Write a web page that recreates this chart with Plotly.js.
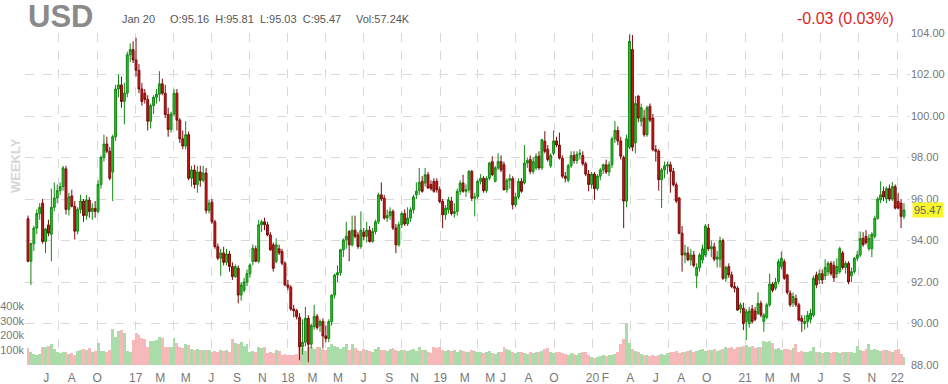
<!DOCTYPE html>
<html>
<head>
<meta charset="utf-8">
<script src="https://cdn.plot.ly/plotly-3.0.1.min.js"></script>
<style>html,body{margin:0;padding:0;background:#fff;}#chart{width:948px;height:384px;}</style>
</head>
<body>
<div id="chart"></div>
<script>
// Weekly bars, first week starting Monday 2016-04-18
const firstWeek = '2016-04-18';

const openP = [
95.05,93.00,93.85,94.60,95.30,95.80,93.95,94.75,94.30,95.60,
96.05,96.40,96.60,97.45,95.50,96.15,95.65,94.45,95.50,95.90,
95.20,95.95,95.40,95.55,95.40,96.70,98.00,98.65,98.30,97.30,
99.00,101.30,101.50,100.70,101.10,102.95,103.20,102.70,102.20,101.30,
101.10,100.80,99.75,100.50,100.90,101.05,101.55,101.10,100.07,99.35,
100.10,101.10,99.80,98.90,98.55,99.10,97.00,97.40,96.70,97.30,
96.90,97.25,95.45,95.85,94.90,93.70,93.15,93.40,92.95,93.35,
92.75,92.26,92.66,91.37,91.60,92.00,92.40,92.98,93.60,93.00,
94.76,94.90,94.76,94.27,93.79,92.98,93.60,93.47,92.90,91.86,
91.75,90.70,90.62,90.30,88.88,89.10,90.25,89.00,89.85,90.35,
89.90,90.10,89.40,89.28,90.09,91.37,92.34,92.45,93.55,94.03,
94.43,93.79,94.50,94.27,93.71,94.40,94.20,94.50,93.95,94.43,
94.90,96.20,96.04,95.08,95.20,95.40,94.60,93.79,94.76,95.30,
94.80,95.08,95.48,96.20,96.40,96.85,96.77,97.17,96.70,96.85,
96.85,96.45,95.88,95.24,95.48,95.90,95.30,95.40,96.37,96.77,
96.37,96.45,97.33,96.04,96.12,96.85,97.00,96.40,97.00,97.80,
96.85,97.50,97.80,97.65,96.45,96.90,96.98,95.72,96.10,96.85,
96.77,97.73,97.90,97.33,97.50,98.06,97.50,98.78,98.40,97.60,
98.20,98.80,98.60,97.97,97.10,96.90,97.60,98.10,97.85,98.15,
98.10,97.70,97.20,96.70,97.20,96.50,97.10,97.40,97.65,97.30,
97.65,98.90,99.30,98.80,98.00,95.90,98.50,103.20,98.70,100.96,
99.75,99.90,99.10,100.47,99.90,98.38,98.30,96.93,97.40,97.60,
97.65,97.33,96.69,96.05,94.35,93.30,93.40,93.07,93.30,92.30,
92.70,93.06,93.30,94.60,93.60,93.70,93.10,93.10,94.00,92.18,
92.74,92.34,91.78,91.70,90.70,90.73,90.10,90.00,90.70,90.60,
90.49,90.97,90.10,90.30,90.90,91.90,91.70,92.02,92.74,92.98,
92.34,91.46,91.00,91.20,90.90,90.25,90.00,90.10,90.20,90.40,
92.34,92.10,92.40,92.30,92.50,92.90,92.80,92.40,92.50,93.40,
92.70,92.90,92.30,92.50,93.14,93.30,94.10,94.20,93.60,93.60,
94.20,95.07,95.96,96.37,96.00,96.50,96.00,96.60,95.88,95.80,
95.16];

const highP = [
95.20,93.90,94.70,95.50,95.80,96.00,94.60,95.00,96.50,96.80,
96.70,96.80,97.60,97.60,96.30,96.45,95.90,95.60,96.20,96.00,
96.20,96.10,95.80,95.90,96.90,98.10,99.10,99.00,98.50,99.10,
101.50,102.00,101.90,101.60,103.10,103.50,103.60,103.77,102.50,101.60,
101.30,101.00,100.60,101.00,101.30,102.16,101.80,101.50,100.40,100.20,
101.30,101.30,99.90,99.30,99.75,99.25,97.60,97.65,97.60,97.60,
97.60,97.50,95.95,96.00,95.00,93.85,93.60,93.70,93.60,93.50,
92.95,92.85,92.80,92.00,92.20,92.60,92.90,93.80,93.75,95.00,
95.00,95.10,94.90,94.40,93.90,94.10,93.80,93.60,93.00,92.10,
91.85,90.90,90.70,90.50,90.20,90.80,90.40,90.00,90.90,90.45,
90.20,90.25,89.90,90.20,91.40,92.40,92.80,93.60,94.10,94.90,
94.50,95.20,95.20,94.40,95.40,94.60,94.90,94.70,94.60,95.00,
96.30,96.80,96.20,95.50,95.60,95.50,94.80,94.90,95.40,95.50,
95.60,95.60,96.20,96.80,97.50,97.10,97.50,97.30,96.90,97.00,
97.00,96.60,96.00,95.70,96.10,96.10,95.80,96.50,96.90,97.17,
96.70,97.40,97.40,96.30,96.95,97.20,97.10,97.10,97.80,98.06,
97.60,98.20,98.10,97.80,97.00,97.20,97.10,96.30,97.00,97.00,
98.60,98.00,98.10,98.00,98.20,98.30,98.90,99.27,98.60,98.20,
99.30,99.00,99.20,98.10,97.30,97.70,98.30,98.30,98.30,98.40,
98.30,97.80,97.40,97.30,97.30,97.20,97.50,97.70,97.90,97.80,
99.00,99.75,99.50,99.00,98.10,99.10,103.93,103.90,100.96,101.00,
100.60,100.30,100.50,100.60,100.10,98.60,98.40,97.50,97.80,97.80,
97.80,97.50,96.80,96.10,94.70,93.80,93.70,93.60,93.50,92.90,
93.40,93.80,94.80,94.80,94.00,93.90,93.50,94.19,94.10,92.80,
92.90,92.50,92.00,91.80,91.00,91.00,90.70,90.80,90.90,90.80,
91.50,91.10,90.50,91.00,92.40,92.00,92.20,93.10,93.47,93.10,
92.40,91.60,91.50,91.40,91.00,90.40,90.40,90.60,90.70,92.30,
92.50,92.60,92.60,93.10,93.00,93.00,93.00,93.14,93.70,93.50,
93.00,93.00,92.70,93.20,93.50,94.43,94.40,94.50,94.30,94.40,
95.20,96.10,96.85,96.60,96.60,96.70,96.82,96.70,96.30,96.00,
95.81];

const lowP = [
92.95,91.86,93.50,94.30,95.00,93.85,93.40,94.20,93.00,95.40,
95.80,96.20,96.40,95.25,95.20,95.60,94.05,94.30,95.30,94.90,
95.00,95.10,95.00,95.10,95.30,96.50,97.80,98.20,96.90,95.90,
98.80,100.90,100.40,99.60,100.90,102.60,102.55,101.90,101.10,100.50,
100.60,99.30,99.40,100.10,100.60,100.70,101.00,99.90,99.00,99.20,
100.00,99.30,98.70,98.40,98.40,96.90,96.60,96.50,96.30,96.60,
96.80,95.30,95.30,94.80,93.60,93.05,92.30,92.80,92.80,92.50,
92.10,92.20,90.97,91.10,91.50,91.80,92.20,92.80,92.95,92.90,
94.40,94.50,94.20,93.50,92.50,92.90,93.30,92.80,91.80,91.60,
90.60,90.30,90.20,88.23,88.50,88.90,88.14,88.80,89.70,89.70,
89.60,88.80,89.10,89.10,89.90,91.20,92.00,92.30,93.20,93.60,
93.00,93.70,94.10,93.60,93.60,94.00,93.90,93.90,93.90,94.30,
94.80,95.90,95.00,94.90,95.00,94.50,93.39,93.70,94.60,94.70,
94.70,94.90,95.30,96.00,96.20,96.30,96.60,96.50,96.40,96.30,
96.30,95.80,94.60,95.00,95.30,95.20,95.10,95.20,96.20,96.30,
96.10,96.30,95.90,95.16,96.00,96.70,96.30,96.30,96.90,97.10,
96.80,97.40,97.30,96.40,96.30,96.50,95.50,95.60,96.00,96.30,
96.70,97.50,97.20,97.20,97.40,97.40,97.40,98.20,97.80,97.50,
98.10,98.50,97.90,97.00,96.80,96.80,97.50,97.70,97.70,97.90,
97.60,97.10,96.37,96.50,95.96,96.40,96.90,97.20,97.20,97.10,
97.50,98.70,98.60,97.90,94.60,95.60,98.40,98.30,98.20,99.70,
99.50,99.00,99.00,99.70,98.30,97.80,96.40,95.56,97.00,97.20,
96.30,96.60,95.80,94.30,92.50,92.90,93.00,92.80,92.70,91.70,
92.50,92.90,93.20,93.50,93.20,93.00,92.70,92.70,92.10,92.00,
92.20,91.70,91.50,90.60,90.50,89.68,89.20,89.80,90.00,90.10,
90.40,90.30,89.60,90.20,90.80,91.50,91.60,91.90,92.60,92.10,
91.40,90.80,90.80,90.80,90.10,89.60,89.70,89.80,90.00,90.30,
91.70,91.90,91.90,92.10,92.30,92.30,92.00,92.20,92.40,92.60,
92.40,91.90,92.00,92.40,93.00,93.20,93.70,93.80,93.50,93.20,
94.10,95.00,95.80,95.90,95.80,95.90,95.90,95.50,95.50,94.60,
95.03];

const closeP = [
93.00,93.85,94.60,95.30,95.60,93.95,94.55,94.35,95.60,96.05,
96.40,96.60,97.50,95.50,96.10,95.65,94.45,95.50,95.90,95.20,
95.95,95.40,95.55,95.40,96.70,98.00,98.65,98.30,97.00,99.00,
101.30,101.50,100.70,101.10,102.95,103.20,102.70,102.20,101.30,100.70,
100.80,99.75,100.50,100.90,101.05,101.55,101.10,100.07,99.35,100.10,
101.10,99.80,98.90,98.55,99.10,97.00,97.40,96.70,97.30,96.90,
97.25,95.45,95.80,94.90,93.70,93.15,93.40,92.95,93.35,92.75,
92.26,92.74,91.37,91.86,92.00,92.40,92.82,93.63,93.00,94.76,
94.90,94.76,94.27,93.55,92.66,93.79,93.40,92.90,91.86,91.75,
90.70,90.62,90.33,88.88,89.10,90.25,89.00,89.90,90.35,89.80,
90.10,89.40,89.28,90.09,91.37,92.34,92.45,93.55,94.03,94.20,
93.79,94.50,94.20,93.71,94.50,94.20,94.50,93.95,94.43,94.90,
96.20,96.00,95.08,95.20,95.40,94.60,93.79,94.76,95.30,94.80,
95.08,95.48,96.10,96.37,96.80,96.37,97.17,96.53,96.50,96.37,
96.45,95.88,95.24,95.56,95.96,95.30,95.40,96.37,96.77,96.37,
96.45,97.33,96.04,96.10,96.85,97.00,96.40,97.00,97.73,97.17,
97.50,97.80,97.40,96.45,96.90,96.98,95.72,96.10,96.85,96.37,
97.73,97.85,97.33,97.80,98.06,97.50,98.86,98.30,97.90,98.10,
98.80,98.60,97.97,97.10,97.00,97.60,98.10,97.85,98.15,98.20,
97.70,97.20,96.70,97.20,96.50,97.10,97.40,97.65,97.30,97.65,
98.90,99.30,98.80,98.06,95.90,98.90,103.60,98.50,100.60,99.90,
100.40,99.10,100.40,99.80,98.38,98.30,96.93,97.40,97.60,97.65,
97.33,96.69,95.90,94.35,93.30,93.40,93.07,93.30,92.80,92.70,
93.30,93.60,94.70,93.60,93.70,93.10,93.20,94.00,92.18,92.70,
92.34,91.78,91.70,90.65,90.90,90.00,90.57,90.60,90.10,90.20,
90.97,90.41,90.40,90.90,91.90,91.60,92.00,92.98,93.14,92.18,
91.50,90.90,91.30,90.90,90.17,90.10,90.10,90.40,90.50,92.18,
91.86,92.40,92.10,92.70,92.90,92.40,92.20,92.75,93.60,92.70,
92.90,92.00,92.50,93.14,93.30,94.10,93.80,93.90,94.10,94.30,
95.07,96.00,96.20,96.10,96.50,96.00,96.60,95.56,95.56,95.16,
95.47];

// weekly volume, thousands of contracts
const volumeK = [
115,85,75,70,75,125,120,130,140,110,
85,80,90,85,75,80,70,95,100,110,
105,115,90,95,150,95,95,90,100,245,
190,230,235,220,95,90,170,215,200,185,
175,120,165,160,170,190,185,120,125,120,
185,150,120,115,140,135,110,105,110,105,
100,100,100,90,95,90,100,95,100,90,
175,150,140,155,130,140,90,95,90,120,
115,125,80,85,80,100,95,70,75,70,
68,70,72,120,115,95,125,120,110,125,
120,110,100,120,140,130,125,110,120,140,
105,140,115,100,95,110,100,95,90,110,
120,105,100,95,110,115,100,95,105,100,
95,100,110,95,125,100,105,90,80,120,
115,125,100,95,105,95,100,90,100,95,
85,90,100,95,90,85,80,85,95,80,
75,90,85,125,110,100,90,80,85,90,
80,75,85,80,90,85,95,110,115,85,
80,85,90,80,75,70,80,75,70,80,
90,85,70,55,50,55,60,65,60,65,
70,75,90,140,175,285,150,110,95,85,
75,70,65,60,65,60,70,75,70,80,
85,90,95,80,90,85,95,100,90,95,
100,110,95,105,100,110,95,100,110,120,
115,120,110,125,120,130,135,125,130,115,
120,125,160,155,165,150,110,115,105,110,
110,105,115,140,90,95,90,85,95,125,
90,85,80,90,85,80,90,85,80,90,
85,90,85,80,130,100,95,110,140,105,
110,100,95,105,100,95,90,100,110,75,
57.24];

// x-axis labels (first day of month) and quarterly grid
const labelDates = ['2016-06-01','2016-08-01','2016-10-01','2017-01-01','2017-03-01','2017-05-01','2017-07-01','2017-09-01','2017-11-01',
 '2018-01-01','2018-03-01','2018-05-01','2018-07-01','2018-09-01','2018-11-01',
 '2019-01-01','2019-03-01','2019-05-01','2019-06-01','2019-08-01','2019-10-01',
 '2020-01-01','2020-02-01','2020-04-01','2020-06-01','2020-08-01','2020-10-01',
 '2021-01-01','2021-03-01','2021-05-01','2021-07-01','2021-09-01','2021-11-01','2022-01-01'];
const labelText = ['J','A','O','17','M','M','J','S','N',
 '18','M','M','J','S','N',
 '19','M','M','J','A','O',
 '20','F','A','J','A','O',
 '21','M','M','J','S','N','22'];
const gridDates = ['2016-07-01','2016-10-01','2017-01-01','2017-04-01','2017-07-01','2017-10-01',
 '2018-01-01','2018-04-01','2018-07-01','2018-10-01','2019-01-01','2019-04-01','2019-07-01','2019-10-01',
 '2020-01-01','2020-04-01','2020-07-01','2020-10-01','2021-01-01','2021-04-01','2021-07-01','2021-10-01','2022-01-01'];
const priceTicks = [88,90,92,94,96,98,100,102,104];
const volTicks = [100,200,300,400];
const volTickText = ['100k','200k','300k','400k'];

const n = closeP.length;
if (openP.length!==n || highP.length!==n || lowP.length!==n || volumeK.length!==n) {
  throw new Error('length mismatch '+[openP.length,highP.length,lowP.length,closeP.length,volumeK.length].join(','));
}
const dates = [];
const t0 = Date.parse(firstWeek+'T00:00:00Z');
for (let i=0;i<n;i++) dates.push(new Date(t0 + i*7*86400000).toISOString().slice(0,10));

const volColors = closeP.map((c,i)=> c>=openP[i] ? '#a9dca9' : '#f6b8b8');

const volTrace = {
  type:'bar', x:dates, y:volumeK, xaxis:'x', yaxis:'y',
  marker:{color:volColors, line:{width:0}}, hoverinfo:'skip'
};
const candle = {
  type:'candlestick', x:dates, open:openP, high:highP, low:lowP, close:closeP,
  xaxis:'x', yaxis:'y2', hoverinfo:'skip', whiskerwidth:0,
  increasing:{line:{color:'#118811', width:1}, fillcolor:'#2fc42f'},
  decreasing:{line:{color:'#7a0a0a', width:1}, fillcolor:'#d01818'}
};

const last = n-1;
const f2 = v => v.toFixed(2);
const px = x => (x-25)/885;
const py = y => (365-y)/332;
const font = 'Liberation Sans, Arial, sans-serif';

const layout = {
  width:948, height:384,
  margin:{l:25, r:38, t:33, b:19, pad:0},
  paper_bgcolor:'#ffffff', plot_bgcolor:'#ffffff',
  showlegend:false, bargap:0, boxgap:0.08,
  font:{family:font, color:'#777', size:11},
  xaxis:{
    type:'date', range:['2016-04-10 19:00','2022-01-31 10:00'],
    rangeslider:{visible:false}, fixedrange:true,
    tickmode:'array', tickvals:labelDates, ticktext:labelText,
    showgrid:false, zeroline:false, showline:false, ticks:'',
    tickfont:{size:12, color:'#777', family:font}, ticklabelstandoff:4,
    minor:{tickmode:'array', tickvals:gridDates, showgrid:true, gridcolor:'#d9d9d9', griddash:'dash', gridwidth:1, ticks:''}
  },
  yaxis:{
    range:[0,2250], side:'left', tickmode:'array', tickvals:volTicks, ticktext:volTickText,
    showgrid:false, zeroline:false, showline:false, ticks:'', fixedrange:true,
    tickfont:{size:11, color:'#777', family:font}
  },
  yaxis2:{
    overlaying:'y', side:'right', range:[88,104], tickmode:'array', tickvals:priceTicks,
    tickformat:'.2f', showgrid:true, gridcolor:'#d9d9d9', griddash:'dash', gridwidth:1,
    zeroline:false, showline:false, ticks:'', fixedrange:true,
    tickfont:{size:11, color:'#777', family:font}
  },
  annotations:[
    {xref:'paper', yref:'paper', x:px(26), y:py(16), xanchor:'left', yanchor:'middle', showarrow:false,
     text:'<b>USD</b>', font:{size:31, color:'#8a8a8a', family:font}},
    {xref:'paper', yref:'paper', x:px(120), y:py(19), xanchor:'left', yanchor:'middle', showarrow:false,
     text:'Jan 20', font:{size:11, color:'#555', family:font}},
    {xref:'paper', yref:'paper', x:px(168), y:py(19), xanchor:'left', yanchor:'middle', showarrow:false,
     text:'O:'+f2(openP[last])+'\u00a0\u00a0H:'+f2(highP[last])+'\u00a0\u00a0L:'+f2(lowP[last])+'\u00a0\u00a0C:'+f2(closeP[last]),
     font:{size:11, color:'#555', family:font}},
    {xref:'paper', yref:'paper', x:px(354), y:py(19), xanchor:'left', yanchor:'middle', showarrow:false,
     text:'Vol:'+f2(volumeK[last])+'K', font:{size:11, color:'#555', family:font}},
    {xref:'paper', yref:'paper', x:px(896), y:py(19), xanchor:'right', yanchor:'middle', showarrow:false,
     text:'-0.03 (0.03%)', font:{size:16, color:'#dd1f1f', family:font}},
    {xref:'paper', yref:'paper', x:px(15), y:py(166), xanchor:'center', yanchor:'middle', showarrow:false,
     textangle:-90, text:'<b>WEEKLY</b>', font:{size:13, color:'#d6d6d6', family:font}},
    {xref:'paper', yref:'y2', x:1, y:closeP[last], xanchor:'left', yanchor:'middle', showarrow:false, xshift:2,
     text:f2(closeP[last]), bgcolor:'#f7f72a', borderpad:1, font:{size:11, color:'#666', family:font}}
  ]
};

Plotly.newPlot('chart', [volTrace, candle], layout, {staticPlot:true, displayModeBar:false});
</script>
</body>
</html>
